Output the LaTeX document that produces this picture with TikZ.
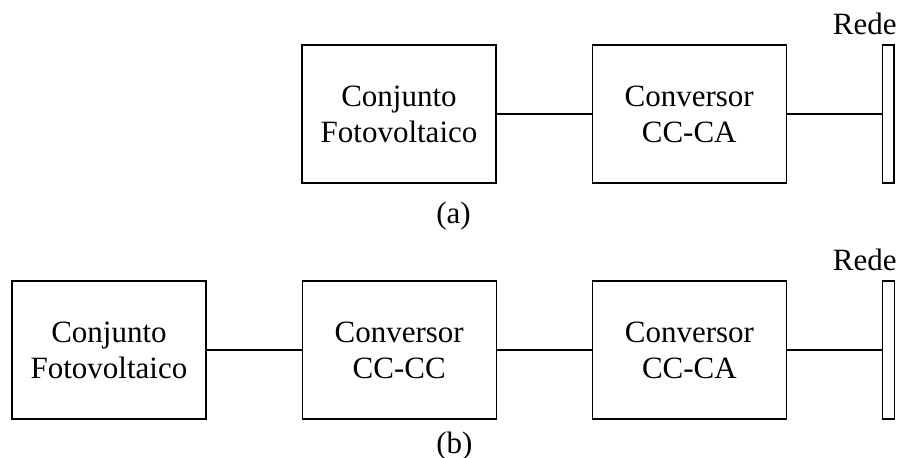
\documentclass[tikz,border=0pt]{standalone}
\usepackage{fontspec}
\setmainfont{Liberation Serif}
\usepackage{tikz}
\usetikzlibrary{positioning}

\begin{document}
\begin{tikzpicture}[
            x=0.5pt, y=-0.5pt,
            node distance = 47.5pt,
            bloco/.style = {draw, line width=0.6pt, minimum width=97pt, minimum height=69pt,
                            inner sep=0pt, align=center, font=\fontsize{15.5}{18}\selectfont},
            barra/.style = {draw, line width=0.6pt, fill=white, minimum width=5.8pt, minimum height=69pt, inner sep=0pt},
            rotulo/.style = {inner sep=0pt, font=\fontsize{15.5}{18}\selectfont},
            line/.style = {draw, line width=0.6pt},
            ]
            \useasboundingbox (0,0) rectangle (903,458);

            % (a)
            \node[bloco] (PVa) at (399,114) {Conjunto\\Fotovoltaico};
            \node[bloco, right=of PVa] (CAa) {Conversor\\CC-CA};
            \node[barra, right=of CAa] (Ra) {};
            \node[rotulo, anchor=base east] (Rtxta) at (897,35) {Rede};
            \node[rotulo, anchor=base west] (La) at (436,224) {(a)};

            \draw[line] (PVa) -- (CAa);
            \draw[line] (CAa) -- (Ra);

            % (b)
            \node[bloco] (PVb) at (109,350) {Conjunto\\Fotovoltaico};
            \node[bloco, right=of PVb] (CCb) {Conversor\\CC-CC};
            \node[bloco, right=of CCb] (CAb) {Conversor\\CC-CA};
            \node[barra, right=of CAb] (Rb) {};
            \node[rotulo, anchor=base east] (Rtxtb) at (897,271) {Rede};
            \node[rotulo, anchor=base west] (Lb) at (436,453) {(b)};

            \draw[line] (PVb) -- (CCb);
            \draw[line] (CCb) -- (CAb);
            \draw[line] (CAb) -- (Rb);
        \end{tikzpicture}
\end{document}
